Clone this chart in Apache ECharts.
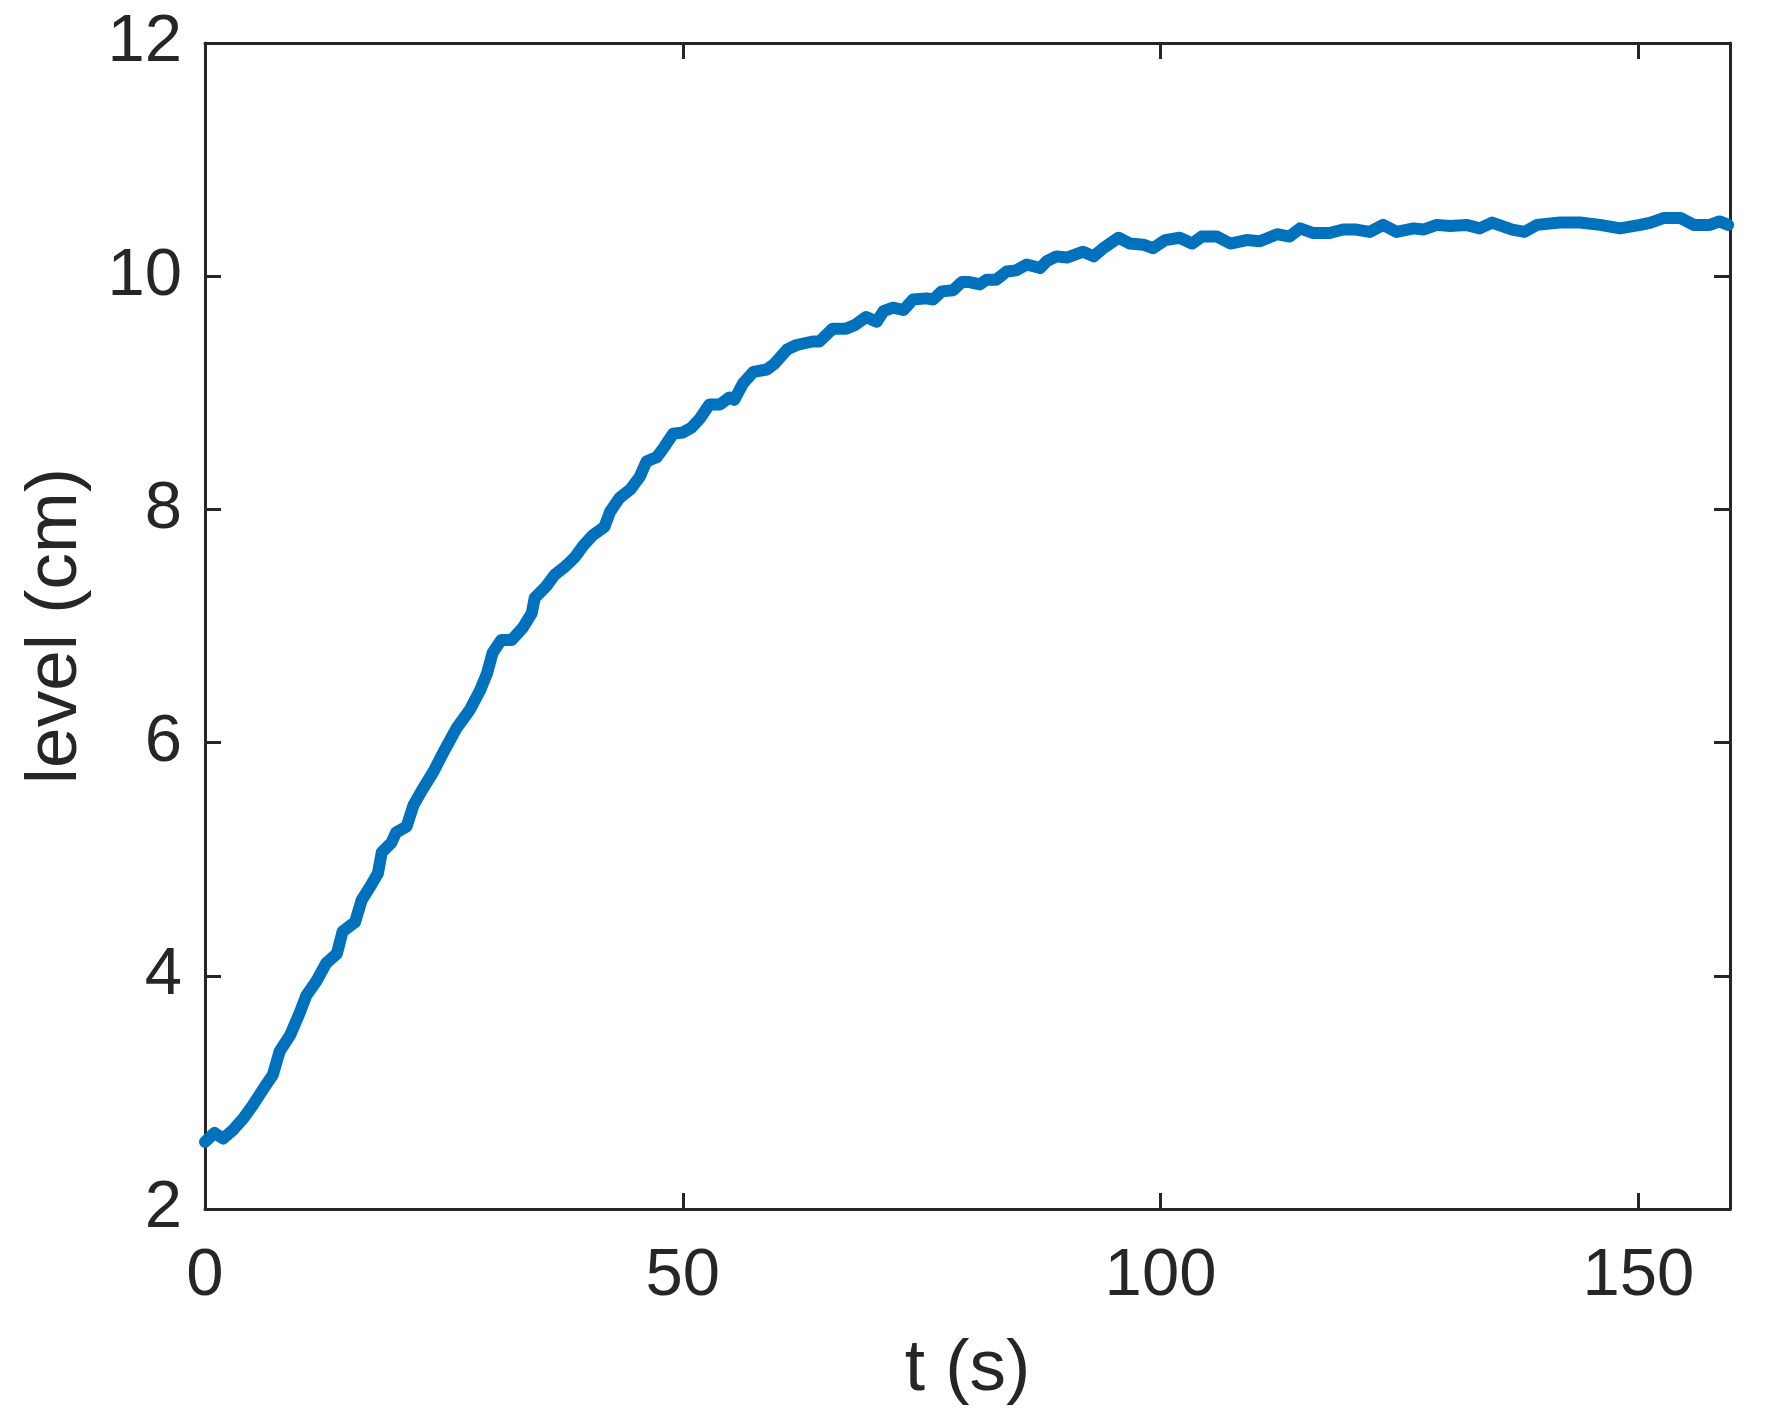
<!DOCTYPE html>
<html>
<head>
<meta charset="utf-8">
<script src="https://cdn.jsdelivr.net/npm/echarts@6/dist/echarts.min.js"></script>
<style>
html,body{margin:0;padding:0;background:#fff;}
#chart{width:1772px;height:1423px;}
</style>
</head>
<body>
<div id="chart"></div>
<script>
// time (s)
var timeS = [0, 1.0, 1.9, 2.9, 4.0, 5.0, 6.1, 7.1, 7.8, 8.9,
  9.9, 10.6, 11.7, 12.7, 13.8, 14.4, 15.7, 16.4, 17.4, 18.1,
  18.5, 19.5, 20.0, 21.1, 21.8, 22.7, 23.9, 25.1, 26.3, 27.7,
  28.8, 29.5, 30.1, 31.0, 32.1, 33.3, 34.2, 34.5, 35.7, 36.6,
  37.7, 38.7, 39.6, 40.6, 41.8, 42.4, 43.4, 44.5, 45.5, 46.2,
  47.3, 48.1, 49.0, 50.0, 50.9, 51.8, 52.8, 53.9, 54.9, 55.4,
  56.3, 57.4, 58.8, 59.6, 60.9, 61.9, 63.6, 64.3, 65.7, 67.1,
  68.0, 69.2, 70.3, 71.0, 72.0, 73.1, 74.1, 75.5, 76.2, 77.1,
  78.3, 79.2, 80.0, 81.1, 81.8, 82.8, 83.9, 84.9, 86.0, 87.4,
  88.1, 89.1, 90.2, 91.9, 93.0, 94.0, 95.6, 96.8, 98.2, 99.2,
  100.5, 102.0, 103.3, 104.3, 105.9, 107.3, 109.0, 110.4, 112.2, 113.5,
  114.6, 116.0, 117.7, 119.1, 120.5, 121.9, 123.3, 124.7, 126.5, 127.5,
  128.9, 130.3, 132.0, 133.4, 134.7, 136.8, 138.1, 139.4, 141.8, 143.9,
  146.0, 148.1, 150.2, 151.3, 152.7, 154.4, 155.8, 157.5, 158.5, 159.4];
// level (cm)
var levelCm = [2.575, 2.652, 2.604, 2.675, 2.776, 2.89, 3.03, 3.15, 3.35, 3.49,
  3.68, 3.83, 3.96, 4.11, 4.19, 4.38, 4.46, 4.65, 4.78, 4.88,
  5.06, 5.14, 5.23, 5.28, 5.46, 5.59, 5.75, 5.94, 6.12, 6.28,
  6.45, 6.59, 6.77, 6.88, 6.88, 6.99, 7.11, 7.24, 7.34, 7.44,
  7.51, 7.59, 7.69, 7.78, 7.85, 7.98, 8.10, 8.17, 8.28, 8.41,
  8.45, 8.54, 8.65, 8.66, 8.70, 8.78, 8.90, 8.90, 8.96, 8.94,
  9.08, 9.18, 9.20, 9.25, 9.37, 9.41, 9.44, 9.44, 9.55, 9.55,
  9.58, 9.65, 9.61, 9.70, 9.73, 9.71, 9.80, 9.81, 9.80, 9.87,
  9.88, 9.95, 9.95, 9.93, 9.97, 9.97, 10.04, 10.05, 10.10, 10.07,
  10.13, 10.17, 10.16, 10.21, 10.17, 10.24, 10.33, 10.28, 10.27, 10.24,
  10.31, 10.33, 10.28, 10.34, 10.34, 10.28, 10.31, 10.30, 10.36, 10.34,
  10.41, 10.37, 10.37, 10.40, 10.40, 10.38, 10.44, 10.38, 10.41, 10.40,
  10.44, 10.43, 10.44, 10.41, 10.46, 10.40, 10.38, 10.44, 10.46, 10.46,
  10.44, 10.41, 10.44, 10.46, 10.50, 10.50, 10.44, 10.44, 10.47, 10.44];
var xTicks = [0, 50, 100, 150];
var yTicks = [2, 4, 6, 8, 10, 12];
var xMin = 0, xMax = 159.6, yMin = 2, yMax = 12;

var axisColor = '#262626';
var fontFam = '"Liberation Sans", Arial, Helvetica, sans-serif';
var seriesData = timeS.map(function (t, i) { return [t, levelCm[i]]; });

function mkX(pos, showLabels) {
  return {
    type: 'value', position: pos, min: xMin, max: xMax, interval: 50,
    name: showLabels ? 't (s)' : '', nameLocation: 'middle', nameGap: 124,
    nameTextStyle: {fontFamily: fontFam, fontSize: 73, color: axisColor},
    axisLine: {show: true, onZero: false, lineStyle: {color: axisColor, width: 3}},
    axisTick: {show: true, inside: true, length: 16, customValues: xTicks, lineStyle: {color: axisColor, width: 3}},
    axisLabel: {show: showLabels, customValues: xTicks, margin: 34, fontFamily: fontFam, fontSize: 67, color: axisColor},
    splitLine: {show: false}
  };
}
function mkY(pos, showLabels) {
  return {
    type: 'value', position: pos, min: yMin, max: yMax, interval: 2,
    name: showLabels ? 'level (cm)' : '', nameLocation: 'middle', nameGap: 113, nameRotate: 90,
    nameTextStyle: {fontFamily: fontFam, fontSize: 73, color: axisColor},
    axisLine: {show: true, onZero: false, lineStyle: {color: axisColor, width: 3}},
    axisTick: {show: true, inside: true, length: 16, customValues: yTicks, lineStyle: {color: axisColor, width: 3}},
    axisLabel: {show: showLabels, customValues: yTicks, margin: 23, fontFamily: fontFam, fontSize: 67, color: axisColor},
    splitLine: {show: false}
  };
}

var chart = echarts.init(document.getElementById('chart'), null, {renderer: 'canvas'});
chart.setOption({
  animation: false,
  backgroundColor: '#ffffff',
  grid: {left: 205, top: 43, width: 1525, height: 1166, containLabel: false},
  xAxis: [mkX('bottom', true), mkX('top', false)],
  yAxis: [mkY('left', true), mkY('right', false)],
  series: [{
    type: 'line', xAxisIndex: 0, yAxisIndex: 0,
    data: seriesData, showSymbol: false, clip: false,
    lineStyle: {color: '#0072BD', width: 12, cap: 'round', join: 'round'}
  }]
});
</script>
</body>
</html>
